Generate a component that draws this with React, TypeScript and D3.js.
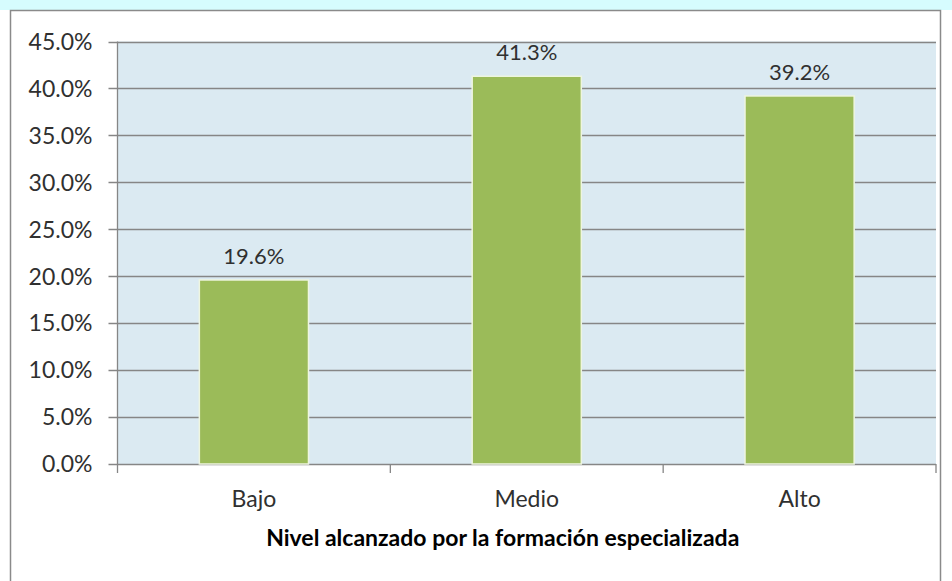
import React from "react";
import * as d3 from "d3";

const categories = ["Bajo", "Medio", "Alto"];
const values = [19.6, 41.3, 39.2];
const yTicks = [0, 5, 10, 15, 20, 25, 30, 35, 40, 45];
const xTitle = "Nivel alcanzado por la formación especializada";

const W = 952;
const H = 581;
const FONT = "Lato, 'Open Sans', sans-serif";

export default function App() {
  const left = 117.5;
  const right = 936;
  const top = 41.5;
  const bottom = 464;
  const x = d3.scaleBand<string>().domain(categories).range([left, right]).paddingInner(0.6).paddingOuter(0.3);
  const xb = d3.scaleBand<string>().domain(categories).range([left, right]);
  const y = d3.scaleLinear().domain([0, 45]).range([bottom, top]);
  const gridColor = "#868686";
  return (
    <svg width={W} height={H} style={{ position: "absolute", left: 0, top: 0, display: "block" }}>
      <rect x={0} y={0} width={W} height={H} fill="#ffffff" />
      <rect x={0} y={0} width={W} height={10} fill="#d6fcfe" />
      <rect x={10.5} y={10.5} width={930} height={H} fill="#ffffff" stroke="#8a8a8a" strokeWidth={1.5} />
      <rect x={left} y={top} width={right - left} height={bottom - top} fill="#dbeaf2" />
      {yTicks.map((t) => (
        <g key={t}>
          <line x1={left - 9} x2={right} y1={Math.round(y(t)) + 0.5} y2={Math.round(y(t)) + 0.5} stroke={gridColor} strokeWidth={1.3} />
          <text x={left - 25} y={y(t)} dy="0.36em" textAnchor="end" fontFamily={FONT} fontSize={23} fill="#303030">
            {t.toFixed(1)}%
          </text>
        </g>
      ))}
      <line x1={left} x2={left} y1={top} y2={bottom} stroke={gridColor} strokeWidth={1.3} />
      {[...categories.map((c) => xb(c) as number), right].map((p, i) => (
        <line key={i} x1={p} x2={p} y1={bottom} y2={bottom + 9} stroke={gridColor} strokeWidth={1.3} />
      ))}
      {categories.map((c, i) => (
        <g key={c}>
          <rect
            x={x(c)}
            y={y(values[i])}
            width={x.bandwidth()}
            height={bottom - y(values[i])}
            fill="#9bbb59"
            stroke="#eef5e0"
            strokeWidth={1.5}
          />
          <text
            x={(x(c) as number) + x.bandwidth() / 2}
            y={y(values[i]) - 16}
            textAnchor="middle"
            fontFamily={FONT}
            fontSize={22}
            fill="#303030"
          >
            {values[i].toFixed(1)}%
          </text>
          <text
            x={(xb(c) as number) + xb.bandwidth() / 2}
            y={bottom + 43}
            textAnchor="middle"
            fontFamily={FONT}
            fontSize={23}
            fill="#303030"
          >
            {c}
          </text>
        </g>
      ))}
      <text x={(left + right) / 2 - 24} y={546} textAnchor="middle" fontFamily={FONT} fontSize={23} fontWeight="bold" fill="#000">
        {xTitle}
      </text>
    </svg>
  );
}
